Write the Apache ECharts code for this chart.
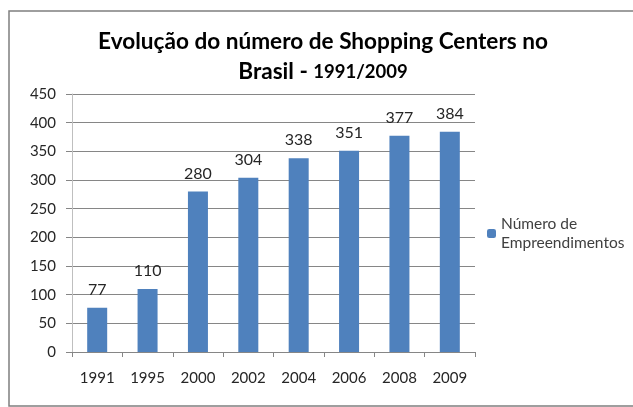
<!DOCTYPE html>
<html>
<head>
<meta charset="utf-8">
<script src="https://cdn.jsdelivr.net/npm/echarts@6/dist/echarts.min.js"></script>
<style>
  html, body { margin: 0; padding: 0; background: #fff; }
  #main { width: 633px; height: 407px; }
</style>
</head>
<body>
<div id="main"></div>
<script>
// data
var anos = ["1991", "1995", "2000", "2002", "2004", "2006", "2008", "2009"];
var empreendimentos = [77, 110, 280, 304, 338, 351, 377, 384];
var serieNome = "Número de\nEmpreendimentos";

var myChart = echarts.init(document.getElementById("main"));

myChart.setOption({
  backgroundColor: "#fff",
  animation: false,
  textStyle: { fontFamily: "Lato, 'Open Sans', sans-serif" },
  // moldura do gráfico
  graphic: [{
    type: "rect",
    shape: { x: 9, y: 11, width: 640, height: 395 },
    style: { fill: "none", stroke: "#7f7f7f", lineWidth: 1.5 },
    silent: true
  }],
  title: {
    text: "{b|Evolução do número de Shopping Centers no}\n{b|Brasil - }{s|1991/2009}",
    left: 318,
    top: 22,
    textAlign: "center",
    textStyle: {
      fontSize: 22.6,
      fontWeight: "bold",
      color: "#000",
      lineHeight: 30,
      rich: {
        b: { fontSize: 22.6, fontWeight: "bold", color: "#000", lineHeight: 30 },
        s: { fontSize: 18.5, fontWeight: "bold", color: "#000", lineHeight: 30 }
      }
    }
  },
  legend: {
    left: 482,
    top: 200,
    itemWidth: 9,
    itemHeight: 9,
    itemGap: 4,
    textStyle: { fontSize: 15.5, color: "#404040", lineHeight: 19, padding: [19, 0, 0, 0] },
    data: [serieNome]
  },
  grid: {
    left: 72,
    right: 158,
    top: 94,
    bottom: 55
  },
  xAxis: {
    type: "category",
    data: anos,
    axisLine: { lineStyle: { color: "#868686" } },
    axisTick: { show: true, length: 5, alignWithLabel: false, lineStyle: { color: "#868686" } },
    axisLabel: { fontSize: 15, color: "#262626", margin: 19 }
  },
  yAxis: {
    type: "value",
    min: 0,
    max: 450,
    interval: 50,
    axisLine: { show: true, lineStyle: { color: "#bfbfbf" } },
    axisTick: { show: true, length: 6, lineStyle: { color: "#868686" } },
    axisLabel: { fontSize: 15, color: "#262626", margin: 16 },
    splitLine: { show: true, lineStyle: { color: "#868686" } }
  },
  series: [{
    name: serieNome,
    type: "bar",
    data: empreendimentos,
    barWidth: 20,
    itemStyle: { color: "#4f81bd" },
    label: {
      show: true,
      position: "top",
      distance: 10,
      fontSize: 16,
      color: "#262626"
    }
  }]
});
</script>
</body>
</html>
